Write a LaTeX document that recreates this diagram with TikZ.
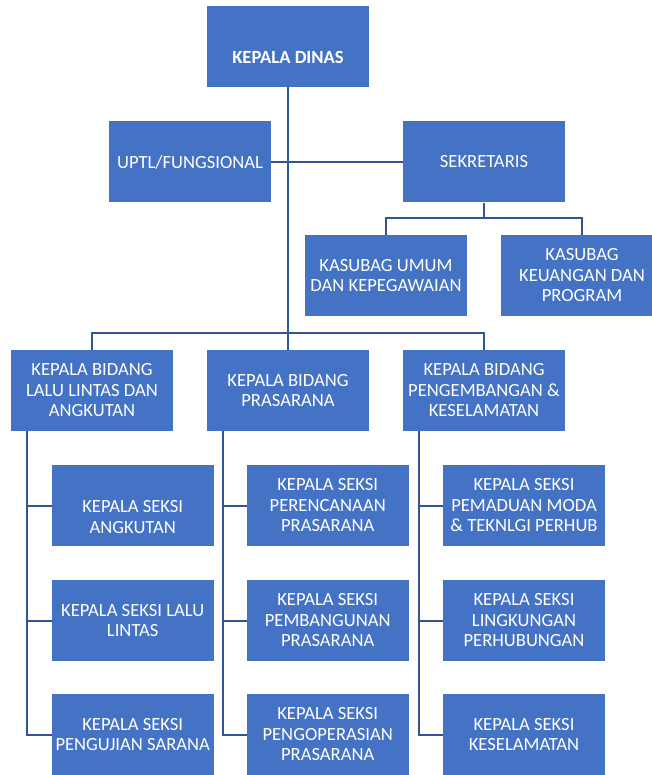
\documentclass[tikz,border=0pt]{standalone}
\usepackage{fontspec}
\setmainfont{Carlito}
\definecolor{boxblue}{RGB}{68,114,196}
\definecolor{lineblue}{RGB}{47,85,151}

\begin{document}
\begin{tikzpicture}[x=1pt,y=-1pt]

    \useasboundingbox (0,0) rectangle (651,775);

    \begin{scope}[every node/.style={rectangle,fill=boxblue,text=white,minimum width=162pt,minimum height=81pt,inner sep=0pt,align=center,font=\fontsize{18.6}{20.5}\selectfont}]
        \node (dinas) at (288,46.5) {\strut\\\textbf{KEPALA DINAS}};
        \node (uptl) at (190,162) {UPTL/FUNGSIONAL};
        \node (sekr) at (484,162){SEKRETARIS};
        \node (umum) at (386,275.5){KASUBAG UMUM\\DAN KEPEGAWAIAN};
        \node (keu) at (582,275.5){KASUBAG\\KEUANGAN DAN\\PROGRAM};
        \node (bidlla) at (92,390.5) {KEPALA BIDANG\\LALU LINTAS DAN\\ANGKUTAN};
        \node (bidprs) at (288,390.5) {KEPALA BIDANG\\PRASARANA};
        \node (bidpk) at (484,390.5) {KEPALA BIDANG\\PENGEMBANGAN \&\\KESELAMATAN};
        \node (lla1) at (132.7,505.5) {\strut\\KEPALA SEKSI\\ANGKUTAN};
        \node (lla2) at (132.7,620.5) {KEPALA SEKSI LALU\\LINTAS};
        \node (lla3) at (132.7,734.5) {KEPALA SEKSI\\PENGUJIAN SARANA};
        \node (prs1) at (327.7,505.5) {KEPALA SEKSI\\PERENCANAAN\\PRASARANA};
        \node (prs2) at (327.7,620.5) {KEPALA SEKSI\\PEMBANGUNAN\\PRASARANA};
        \node (prs3) at (327.7,734.5) {KEPALA SEKSI\\PENGOPERASIAN\\PRASARANA};
        \node (pk1) at (524,505.5) {KEPALA SEKSI\\PEMADUAN MODA\\\& TEKNLGI PERHUB};
        \node (pk2) at (524,620.5) {KEPALA SEKSI\\LINGKUNGAN\\PERHUBUNGAN};
        \node (pk3) at (524,734.5) {KEPALA SEKSI\\KESELAMATAN};
    \end{scope}

    \coordinate (kbus) at (484,218);
    \coordinate (bbus) at (288,333);

    \begin{scope}[every path/.style={draw=lineblue,line width=2pt}]
        \path (dinas) edge (bidprs);
        \path (uptl) edge (sekr);
        \path (sekr) edge (kbus);
        \draw (umum.north) |- (kbus) -| (keu.north);
        \draw (bidlla.north) |- (bbus) -| (bidpk.north);
        \foreach \b/\s in {bidlla/lla,bidprs/prs,bidpk/pk}
            \foreach \i in {1,2,3}
                \draw ([xshift=16pt]\b.south west) |- (\s\i.west);
    \end{scope}

\end{tikzpicture}
\end{document}
